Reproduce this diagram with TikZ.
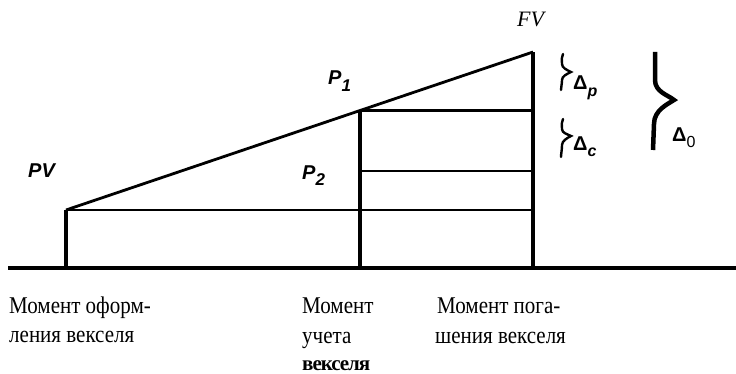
\documentclass[tikz,border=0pt]{standalone}
\usepackage{fontspec}
\setmainfont{Liberation Serif}
\newfontfamily\sansf{Liberation Sans}
\newcommand{\narrowtxt}[1]{\scalebox{0.875}[1]{#1}}
\begin{document}
\begin{tikzpicture}[x=1pt,y=-1pt,
  axisline/.style={line width=3.5pt},
  vline/.style={line width=3.2pt},
  hline/.style={line width=2.4pt},
  slant/.style={line width=2.8pt},
  smallbrace/.style={line width=2.4pt},
  bigbrace/.style={line width=4.5pt},
  lbl/.style={inner sep=0pt, anchor=base west},
  bottomtxt/.style={inner sep=0pt, anchor=base west, font=\fontsize{24}{29}\selectfont},
  plab/.style={inner sep=0pt, anchor=base west, font=\sansf\bfseries\itshape\fontsize{20}{20}\selectfont},
  dlab/.style={inner sep=0pt, anchor=base west, font=\sansf\bfseries\fontsize{20}{20}\selectfont}
]
\useasboundingbox (0,0) rectangle (736,374);
% key points
\coordinate (A) at (66,210);
\coordinate (B) at (360,110.5);
\coordinate (C) at (533,52);
\coordinate (A0) at (66,268);
\coordinate (B0) at (360,268);
\coordinate (C0) at (533,268);
\coordinate (L0) at (8,268);
\coordinate (R0) at (736,268);
\coordinate (B1) at (531,110.5);
\coordinate (P2l) at (360,171);
\coordinate (P2r) at (533,171);
\coordinate (Ar) at (533,210);
% axis
\draw[axisline] (L0) -- (R0);
% verticals
\draw[vline] (A0) -- (A);
\draw[vline] (B0) -- (B);
\draw[vline] (C0) -- (C);
% slanted line
\draw[slant, line join=round] (A) -- (C);
% horizontals
\draw[hline] (A) -- (Ar);
\draw[hline] (B) -- (B1);
\draw[hline] (P2l) -- (P2r);
% braces
\draw[smallbrace, line cap=round] (563,54) .. controls (561,57) and (562,60) .. (562,64) .. controls (562,68) and (567,70) .. (571,72) .. controls (567,74) and (562,76) .. (562,80) .. controls (562,84) and (561,87) .. (561,90);
\draw[smallbrace, line cap=round] (563,119) .. controls (561,122) and (562,125) .. (562,129) .. controls (562,133) and (567,134) .. (571,136) .. controls (567,138) and (562,141) .. (562,145) .. controls (562,150) and (561,154) .. (561,157);
\draw[bigbrace] (655,52) -- (655,80) .. controls (655,92) and (668,95) .. (674,100) .. controls (668,104) and (654,110) .. (654,124) -- (653,150);
% labels
\node[lbl, font=\itshape\fontsize{22}{22}\selectfont] (fv) at (517,27) {FV};
\node[plab] (pv) at (28,178) {PV};
\node[plab] (p1) at (328,85) {P\raisebox{-7pt}{\fontsize{17}{17}\selectfont 1}};
\node[plab] (p2) at (302,180) {P\raisebox{-6pt}{\fontsize{17}{17}\selectfont 2}};
\node[dlab] (dp) at (573,90) {Δ\raisebox{-7pt}{\itshape\fontsize{16}{16}\selectfont p}};
\node[dlab] (dc) at (573,151) {Δ\raisebox{-6pt}{\itshape\fontsize{16}{16}\selectfont c}};
\node[dlab] (d0) at (672,142) {Δ\raisebox{-6pt}{\fontsize{16}{16}\selectfont\mdseries 0}};
% bottom text
\node[bottomtxt] (t1a) at (9,313) {\narrowtxt{Момент оформ-}};
\node[bottomtxt] (t1b) at (9,342) {\narrowtxt{ления векселя}};
\node[bottomtxt] (t2a) at (302,313) {\narrowtxt{Момент}};
\node[bottomtxt] (t2b) at (302,343) {\narrowtxt{учета}};
\node[bottomtxt, font=\bfseries\fontsize{21}{29}\selectfont] (t2c) at (302,370) {\addfontfeature{LetterSpace=-5}векселя};
\node[bottomtxt] (t3a) at (437,313) {\narrowtxt{Момент пога-}};
\node[bottomtxt] (t3b) at (435,343) {\narrowtxt{шения векселя}};
\end{tikzpicture}
\end{document}
